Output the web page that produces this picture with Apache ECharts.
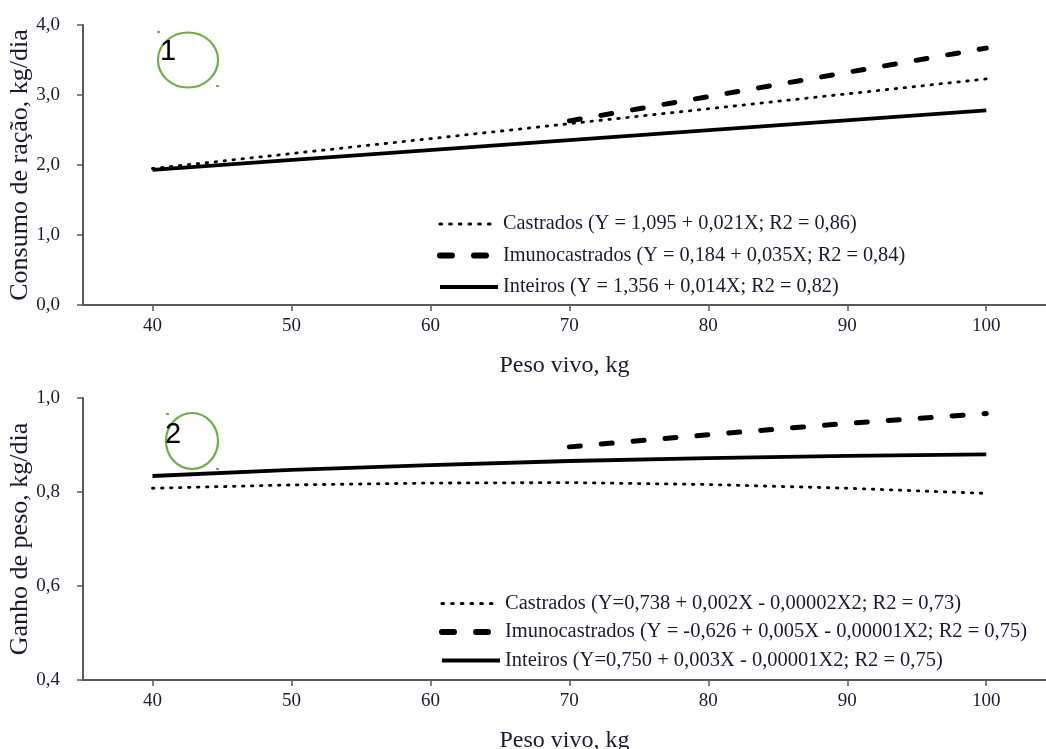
<!DOCTYPE html>
<html>
<head>
<meta charset="utf-8">
<script src="https://cdn.jsdelivr.net/npm/echarts@6/dist/echarts.min.js"></script>
<style>
html,body{margin:0;padding:0;background:#fff;}
#c{width:1046px;height:749px;}
</style>
</head>
<body>
<div id="c"></div>
<script>
// ---- Data ----
const xTicks = [40, 50, 60, 70, 80, 90, 100];

// Chart 1: Consumo de ração (kg/dia)
const cons_names = [
  'Castrados (Y = 1,095 + 0,021X; R2 = 0,86)',
  'Imunocastrados (Y = 0,184 + 0,035X; R2 = 0,84)',
  'Inteiros (Y = 1,356 + 0,014X; R2 = 0,82)'
];
const cons_castrados_x = [40, 70, 100];
const cons_castrados_y = [1.95, 2.59, 3.23];
const cons_imuno_x = [70, 100];
const cons_imuno_y = [2.63, 3.67];
const cons_inteiros_x = [40, 100];
const cons_inteiros_y = [1.93, 2.78];
const cons_yTicks = [0, 1, 2, 3, 4];

// Chart 2: Ganho de peso (kg/dia)
const gan_names = [
  'Castrados (Y=0,738 + 0,002X - 0,00002X2; R2 = 0,73)',
  'Imunocastrados (Y = -0,626 + 0,005X - 0,00001X2; R2 = 0,75)',
  'Inteiros (Y=0,750 + 0,003X - 0,00001X2; R2 = 0,75)'
];
const gan_castrados_x = [40, 50, 60, 70, 80, 90, 100];
const gan_castrados_y = [0.808, 0.815, 0.819, 0.820, 0.816, 0.808, 0.797];
const gan_imuno_x = [70, 80, 90, 100];
const gan_imuno_y = [0.896, 0.922, 0.946, 0.967];
const gan_inteiros_x = [40, 50, 60, 70, 80, 90, 100];
const gan_inteiros_y = [0.834, 0.847, 0.857, 0.866, 0.872, 0.877, 0.880];
const gan_yTicks = [0.4, 0.6, 0.8, 1.0];

// ---- Styling ----
const FONT = 'Liberation Serif';
const TXT = '#1b1b30';
const AX = '#595959';
const zip = (xs, ys) => xs.map((x, i) => [x, ys[i]]);
const fmt = v => v.toFixed(1).replace('.', ',');

function xAxisDef(gridIndex) {
  return {
    type: 'value', gridIndex, min: 35, max: 104.3,
    name: 'Peso vivo, kg', nameLocation: 'middle', nameGap: 49, nameMoveOverlap: false,
    nameTextStyle: {fontFamily: FONT, fontSize: 24, color: TXT},
    axisLine: {show: true, lineStyle: {color: AX, width: 2}},
    axisTick: {show: true, inside: false, length: 6, lineStyle: {color: AX, width: 1.5}, customValues: xTicks},
    axisLabel: {fontFamily: FONT, fontSize: 19, color: TXT, margin: 12, customValues: xTicks},
    splitLine: {show: false}
  };
}
function yAxisDef(gridIndex, min, max, interval, name, nameGap) {
  return {
    type: 'value', gridIndex, min, max, interval,
    name, nameLocation: 'middle', nameGap, nameRotate: 90, nameMoveOverlap: false,
    nameTextStyle: {fontFamily: FONT, fontSize: 26, color: TXT},
    axisLine: {show: true, lineStyle: {color: AX, width: 2}},
    axisTick: {show: true, inside: false, length: 6, lineStyle: {color: AX, width: 1.5}},
    axisLabel: {fontFamily: FONT, fontSize: 19, color: TXT, margin: 23, formatter: fmt},
    splitLine: {show: false}
  };
}
const dotted = {color: '#000', width: 2.8, type: [1.5, 7.5], cap: 'round'};
const dashed = {color: '#000', width: 5, type: [11, 21], cap: 'round'};
const solid = {color: '#000', width: 3.8, type: 'solid'};

function lineSeries(name, data, xi, yi, ls, z) {
  return {
    type: 'line', name, data, xAxisIndex: xi, yAxisIndex: yi,
    showSymbol: false, symbol: 'none', smooth: false, lineStyle: ls,
    itemStyle: {color: '#000'}, z: z || 2, animation: false
  };
}

function legendDef(names, left, top, gap, fs) {
  return {
    data: [
      {name: names[0], lineStyle: {width: 3.2, type: [1.5, 8.2], cap: 'round'}},
      {name: names[1], lineStyle: {width: 6, type: [12, 22], cap: 'round'}},
      {name: names[2], lineStyle: {width: 4}}
    ],
    orient: 'vertical', left, top, itemGap: gap,
    itemWidth: 58, itemHeight: 14,
    itemStyle: {opacity: 0},
    textStyle: {fontFamily: FONT, fontSize: fs, color: TXT},
    selectedMode: false
  };
}

function marker(cx, cy, rx, ry, label, tx, ty, d1, d2) {
  return [
    {type: 'ellipse', shape: {cx, cy, rx, ry}, style: {fill: 'none', stroke: '#70ad47', lineWidth: 2.2}, z: 10},
    {type: 'rect', shape: {x: d1[0], y: d1[1], width: 3, height: 2}, style: {fill: '#70ad47'}, z: 10},
    {type: 'rect', shape: {x: d2[0], y: d2[1], width: 3, height: 2}, style: {fill: '#70ad47'}, z: 10},
    {type: 'text', x: tx, y: ty, style: {text: label, font: '29px "Liberation Sans"', fill: '#000', textAlign: 'left', textVerticalAlign: 'middle'}, z: 11}
  ];
}

const chart = echarts.init(document.getElementById('c'), null, {renderer: 'canvas'});
chart.setOption({
  backgroundColor: '#fff',
  animation: false,
  grid: [
    {left: 83, right: 0, top: 25, height: 280, outerBoundsMode: 'none', containLabel: false},
    {left: 83, right: 0, top: 398, height: 282, outerBoundsMode: 'none', containLabel: false}
  ],
  xAxis: [xAxisDef(0), xAxisDef(1)],
  yAxis: [
    yAxisDef(0, cons_yTicks[0], cons_yTicks[cons_yTicks.length - 1], 1, 'Consumo de ração, kg/dia', 50),
    yAxisDef(1, gan_yTicks[0], gan_yTicks[gan_yTicks.length - 1], 0.2, 'Ganho de peso, kg/dia', 50)
  ],
  legend: [
    legendDef(cons_names, 432, 209, 11.5, 20.3),
    legendDef(gan_names, 434, 588, 7.5, 20.5)
  ],
  series: [
    lineSeries(cons_names[0], zip(cons_castrados_x, cons_castrados_y), 0, 0, dotted, 3),
    lineSeries(cons_names[1], zip(cons_imuno_x, cons_imuno_y), 0, 0, dashed, 2),
    lineSeries(cons_names[2], zip(cons_inteiros_x, cons_inteiros_y), 0, 0, solid, 2),
    lineSeries(gan_names[0], zip(gan_castrados_x, gan_castrados_y), 1, 1, dotted, 3),
    lineSeries(gan_names[1], zip(gan_imuno_x, gan_imuno_y), 1, 1, dashed, 2),
    lineSeries(gan_names[2], zip(gan_inteiros_x, gan_inteiros_y), 1, 1, solid, 2)
  ],
  graphic: [
    ...marker(188, 60, 30, 27.5, '1', 160, 52, [157, 31], [216, 85]),
    ...marker(192, 441, 26, 28, '2', 165, 435, [166, 413], [216, 468])
  ]
});
</script>
</body>
</html>
